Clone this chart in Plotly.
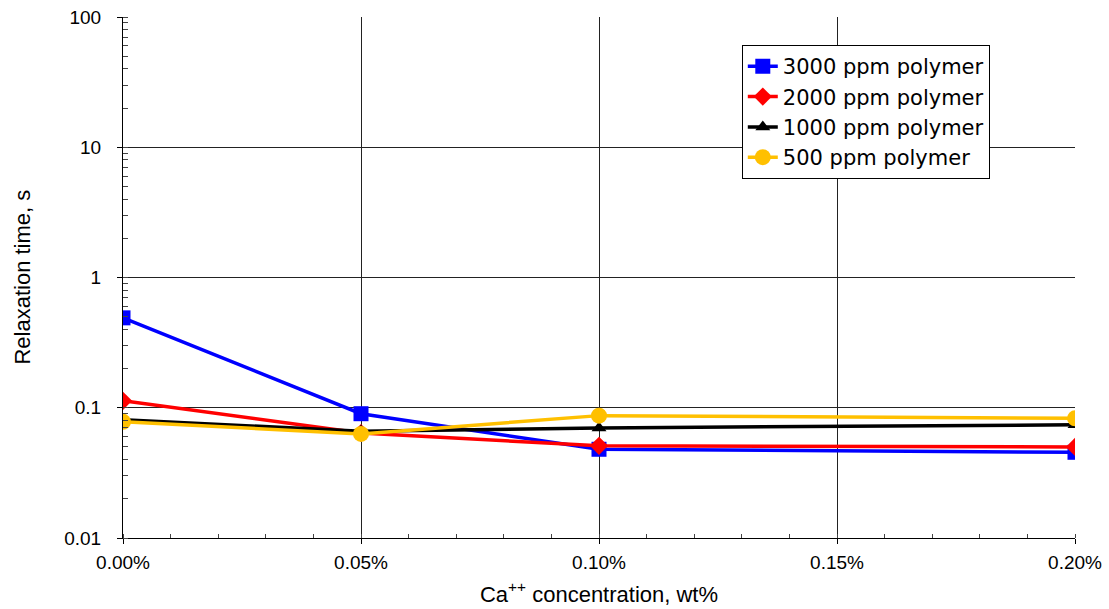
import plotly.graph_objects as go

ca_wt = [0.00, 0.05, 0.10, 0.20]
series_names = ["3000 ppm polymer", "2000 ppm polymer", "1000 ppm polymer", "500 ppm polymer"]
relax_3000 = [0.49, 0.090, 0.048, 0.0455]
relax_2000 = [0.113, 0.064, 0.051, 0.050]
relax_1000 = [0.081, 0.066, 0.070, 0.074]
relax_500 = [0.078, 0.063, 0.087, 0.083]
y_tick_vals = [0.01, 0.1, 1, 10, 100]
y_tick_text = ["0.01", "0.1", "1", "10", "100"]
x_tick_vals = [0.00, 0.05, 0.10, 0.15, 0.20]
x_tick_text = ["0.00%", "0.05%", "0.10%", "0.15%", "0.20%"]

styles = [
    ("#0000FF", "square", 15),
    ("#FF0000", "diamond", 14),
    ("#000000", "triangle-up", 13),
    ("#FFC000", "circle", 16),
]
data = [relax_3000, relax_2000, relax_1000, relax_500]

fig = go.Figure()
for name, ys, (col, sym, sz) in zip(series_names, data, styles):
    fig.add_trace(go.Scatter(
        x=ca_wt, y=ys, name=name, mode="lines+markers",
        line=dict(color=col, width=3.5),
        marker=dict(color=col, symbol=sym, size=sz, line=dict(width=0)),
    ))

fig.add_annotation(
    text="Relaxation time, s", xref="paper", yref="paper",
    x=-0.106, y=0.5, xanchor="center", yanchor="middle",
    textangle=-90, showarrow=False, font=dict(size=22),
)

fig.update_layout(
    width=1109, height=609,
    margin=dict(l=123, r=34, t=17, b=71, autoexpand=False),
    paper_bgcolor="white", plot_bgcolor="white",
    font=dict(family="Liberation Sans, Arial, sans-serif", color="black"),
    showlegend=True,
    legend=dict(
        x=0.650, y=0.946, xanchor="left", yanchor="top",
        bordercolor="black", borderwidth=1, bgcolor="white",
        font=dict(size=21, family="DejaVu Sans, sans-serif"), tracegroupgap=0,
    ),
    xaxis=dict(
        range=[0, 0.20], tickvals=x_tick_vals, ticktext=x_tick_text,
        showgrid=True, gridcolor="#222222", gridwidth=1,
        showline=True, linecolor="black", linewidth=1,
        ticks="outside", ticklen=5, tickcolor="black",
        tickfont=dict(size=19), ticklabelstandoff=2, automargin=False,
        minor=dict(dtick=0.01, ticks="inside", ticklen=4, tickcolor="#444", showgrid=False),
        title=dict(text="Ca<sup>++</sup> concentration, wt%", font=dict(size=22), standoff=14),
        zeroline=False,
    ),
    yaxis=dict(
        type="log", range=[-2, 2], tickvals=y_tick_vals, ticktext=y_tick_text,
        showgrid=True, gridcolor="#222222", gridwidth=1,
        showline=True, linecolor="black", linewidth=1,
        ticks="outside", ticklen=5, tickcolor="black",
        tickfont=dict(size=19), ticklabelstandoff=12, automargin=False,
        minor=dict(dtick="D1", ticks="inside", ticklen=5, tickcolor="#444", showgrid=False),
        zeroline=False,
    ),
)

fig.write_html("out.html")
